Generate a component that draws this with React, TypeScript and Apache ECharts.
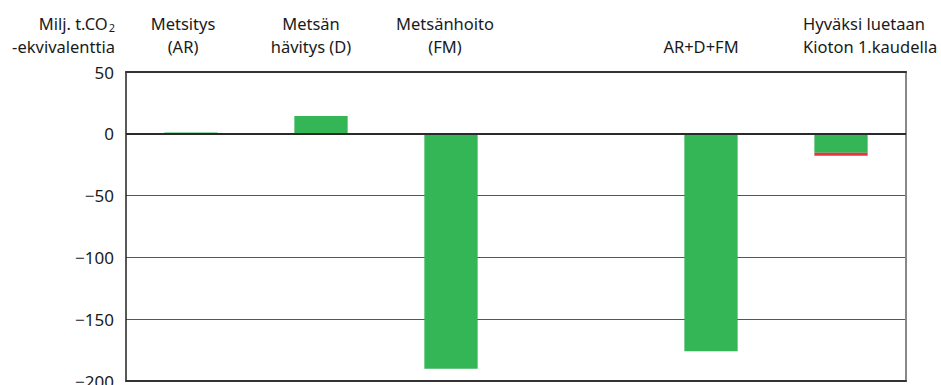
import React, { useEffect, useRef } from "react";
import * as echarts from "echarts";

const categories = [
  "Metsitys\n(AR)",
  "Metsän\nhävitys (D)",
  "Metsänhoito\n(FM)",
  "",
  "AR+D+FM",
  "Hyväksi luetaan\nKioton 1.kaudella",
];
const greenValues: (number | string)[] = [1, 14.5, -190, "-", -176, -15.4];
const redValues: (number | string)[] = ["-", "-", "-", "-", "-", -2.4];
const yTicks = [50, 0, -50, -100, -150, -200];

const FONT = "Noto Sans";
const FS = 16.5;

const base = { fontFamily: FONT, fontSize: FS, color: "#1a1a1a", lineHeight: 23 };
const richStyles: Record<string, any> = {
  c0: { ...base, padding: [0, 16, 0, 0] },
  c1: { ...base, padding: [0, 20, 0, 0] },
  c2: { ...base, padding: [0, 12, 0, 0] },
  c3: { ...base },
  c4: { ...base, padding: [0, 20, 0, 0] },
  c5: { ...base, width: 136, align: "left", padding: [0, 0, 0, 60] },
};

export default function App() {
  const ref = useRef<HTMLDivElement>(null);
  useEffect(() => {
    document.body.style.margin = "0";
    const chart = echarts.init(ref.current!, null, { renderer: "svg" });
    chart.setOption({
      animation: false,
      grid: { left: 126, right: 35, top: 72, bottom: 4, outerBoundsMode: "none", containLabel: false },
      xAxis: [
        {
          type: "category",
          position: "top",
          data: categories,
          axisLine: { show: true, onZero: false, lineStyle: { color: "#333", width: 2 } },
          axisTick: { show: false },
          axisLabel: {
            interval: 0,
            margin: 14,
            verticalAlign: "bottom",
            formatter: (v: string, i: number) =>
              v
                .split("\n")
                .map((l) => (l ? `{c${i}|${l}}` : ""))
                .join("\n"),
            rich: richStyles,
          },
          splitLine: { show: false },
        },
        {
          type: "category",
          position: "bottom",
          data: categories,
          axisLine: { show: true, onZero: false, lineStyle: { color: "#333", width: 2 } },
          axisTick: { show: false },
          axisLabel: { show: false },
        },
      ],
      yAxis: [
        {
          type: "value",
          min: yTicks[yTicks.length - 1],
          max: yTicks[0],
          interval: 50,
          axisLine: { show: true, lineStyle: { color: "#222", width: 1.5 } },
          axisTick: { show: false },
          splitLine: { show: true, lineStyle: { color: "#555", width: 1 } },
          axisLabel: {
            margin: 12,
            color: "#1a1a1a",
            fontFamily: FONT,
            fontSize: 17,
            formatter: (v: number) => (v < 0 ? "\u2212" + Math.abs(v) : String(v)),
          },
          name: "{a|Milj. t.CO}{s|2}\n{a|-ekvivalenttia}",
          nameLocation: "end",
          nameGap: 14,
          nameTextStyle: {
            align: "right",
            verticalAlign: "bottom",
            padding: [0, 11, 0, 0],
            rich: {
              a: { fontFamily: FONT, fontSize: FS, color: "#1a1a1a", lineHeight: 23 },
              s: { fontFamily: FONT, fontSize: 11, color: "#1a1a1a", lineHeight: 14, padding: [8, 0, 0, 1] },
            },
          },
        },
        {
          type: "value",
          position: "right",
          min: yTicks[yTicks.length - 1],
          max: yTicks[0],
          interval: 50,
          axisLine: { show: true, lineStyle: { color: "#888", width: 2 } },
          axisTick: { show: false },
          axisLabel: { show: false },
          splitLine: { show: false },
        },
      ],
      series: [
        {
          type: "bar",
          stack: "total",
          data: greenValues,
          barWidth: "41%",
          itemStyle: { color: "#34b556" },
          markLine: {
            silent: true,
            symbol: "none",
            label: { show: false },
            lineStyle: { color: "#2a2a2a", width: 2, type: "solid" },
            data: [{ yAxis: 0 }],
            z: 10,
          },
        },
        {
          type: "bar",
          stack: "total",
          data: redValues,
          barWidth: "41%",
          itemStyle: { color: "#e8363d" },
        },
      ],
    });
    return () => chart.dispose();
  }, []);
  return <div ref={ref} style={{ width: 941, height: 385 }} />;
}
